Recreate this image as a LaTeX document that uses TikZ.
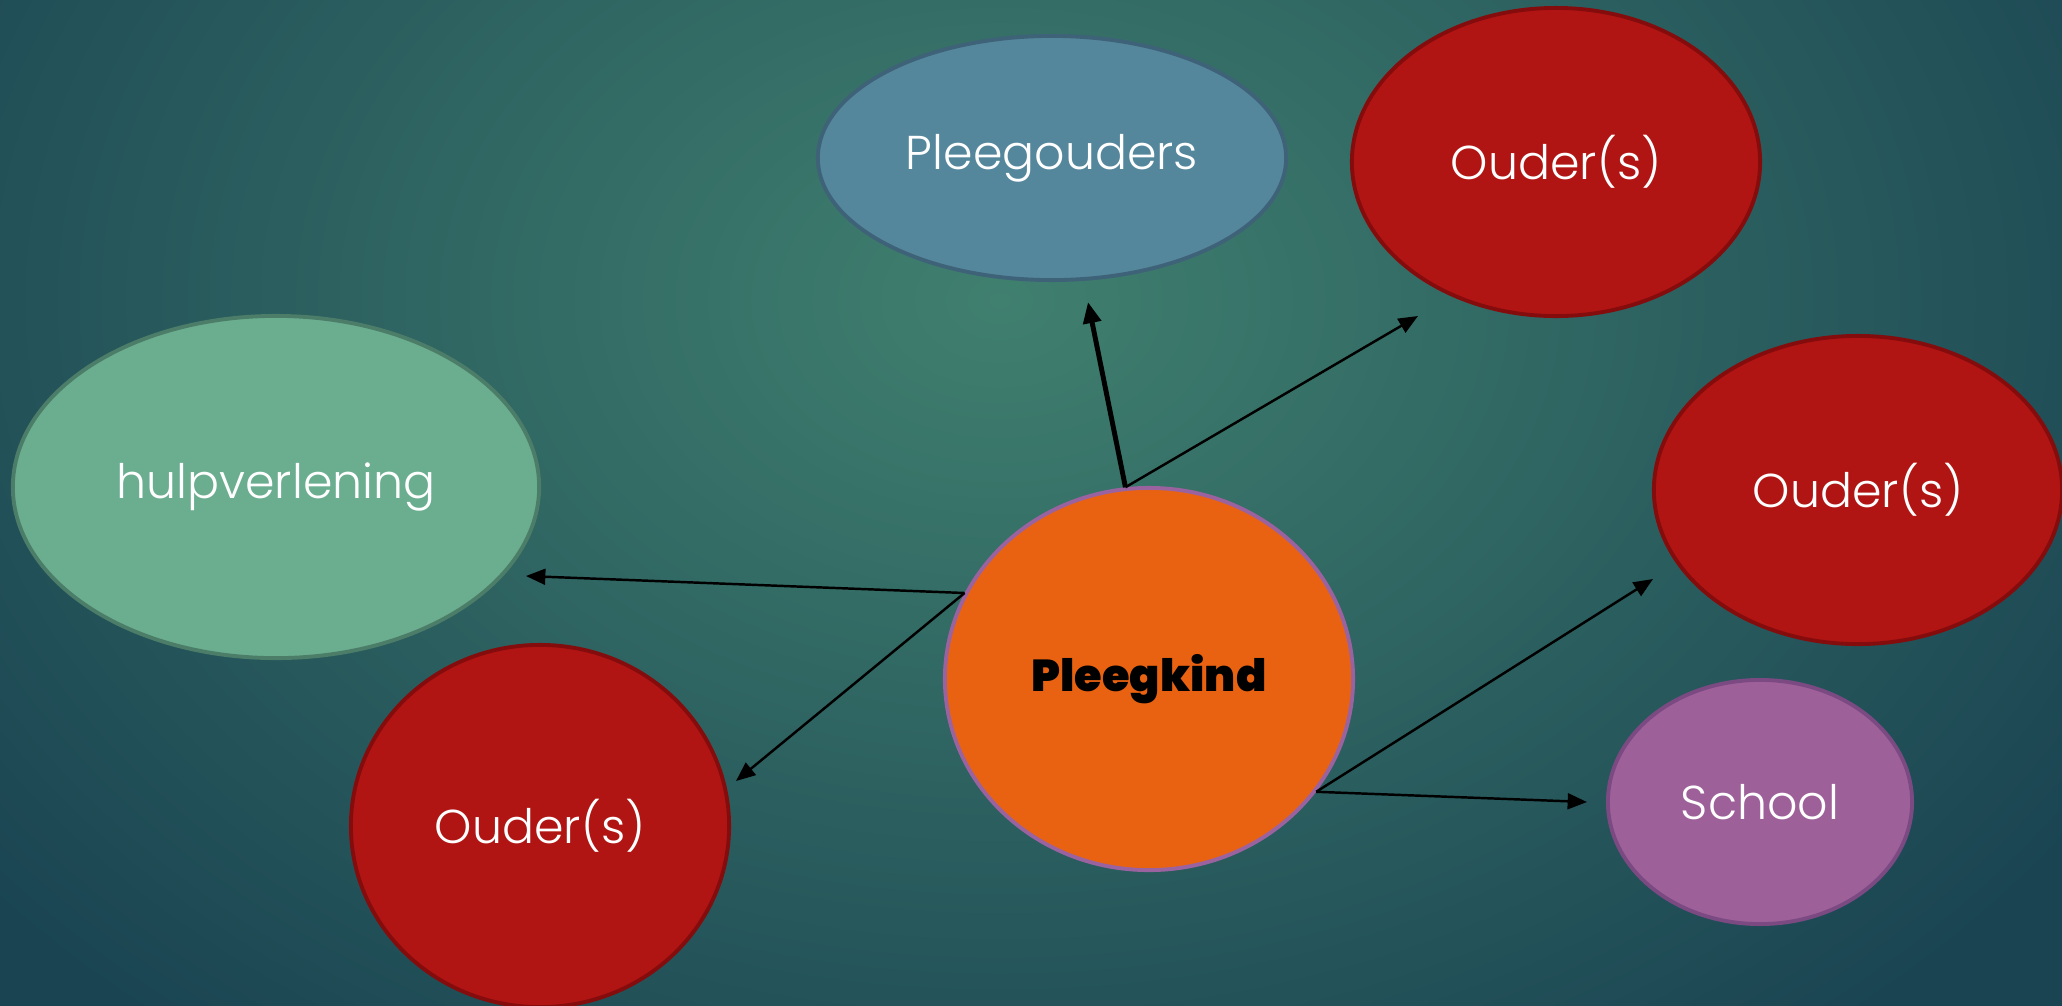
\documentclass[tikz,border=0pt]{standalone}
\usepackage{fontspec}
\setmainfont{Poppins}[UprightFont=* Light, BoldFont=* Black]
\usetikzlibrary{shapes.geometric,arrows.meta}
\definecolor{bgin}{HTML}{40806F}
\definecolor{bgout}{HTML}{1A4452}
\definecolor{pofill}{HTML}{54869C}
\definecolor{podraw}{HTML}{3E6278}
\definecolor{oufill}{HTML}{B01513}
\definecolor{oudraw}{HTML}{850C0C}
\definecolor{hufill}{HTML}{6AAE8F}
\definecolor{hudraw}{HTML}{4C7D68}
\definecolor{pkfill}{HTML}{E86212}
\definecolor{pkdraw}{HTML}{9B62A0}
\definecolor{scfill}{HTML}{9E6099}
\definecolor{scdraw}{HTML}{7C4A82}
\tikzset{
  blob/.style={ellipse, inner sep=0pt, line width=1.1pt, text=white, font=\fontsize{13.5}{16}\selectfont},
  conn/.style={-{Triangle[length=5.5pt,width=4.5pt]}, line width=0.7pt, black},
  thickconn/.style={-{Triangle[length=6pt,width=5pt]}, line width=1.4pt, black}
}
\begin{document}
\begin{tikzpicture}[x=0.01cm,y=-0.01cm]
\useasboundingbox (0,0) rectangle (2062,1005);
\begin{scope}
\clip (0,0) rectangle (2062,1005);
\fill[bgout] (-10,-10) rectangle (2072,1015);
\shade[inner color=bgin, outer color=bgout] (1000,300) ellipse (1300 and 950);
\end{scope}
\node[blob, fill=pofill, draw=podraw, minimum width=4.68cm, minimum height=2.44cm] (po) at (1052,158) {Pleegouders};
\node[blob, fill=oufill, draw=oudraw, minimum width=4.08cm, minimum height=3.08cm] (o1) at (1556,162) {Ouder(s)};
\node[blob, fill=hufill, draw=hudraw, minimum width=5.26cm, minimum height=3.42cm] (hv) at (276,487) {hulpverlening};
\node[blob, fill=oufill, draw=oudraw, minimum width=4.08cm, minimum height=3.08cm] (o2) at (1858,490) {Ouder(s)};
\node[blob, fill=oufill, draw=oudraw, minimum width=3.78cm, minimum height=3.62cm] (o3) at (540,826) {Ouder(s)};
\node[blob, fill=scfill, draw=scdraw, minimum width=3.04cm, minimum height=2.44cm] (sc) at (1760,802) {School};
\node[blob, fill=pkfill, draw=pkdraw, text=black, font=\fontsize{12.7}{15}\selectfont\bfseries, minimum width=4.08cm, minimum height=3.82cm] (pk) at (1149,679) {Pleegkind};
\coordinate (e1) at (1088,302);
\coordinate (e2) at (1418,316);
\coordinate (e3) at (526,576);
\coordinate (e4) at (736,781);
\coordinate (e5) at (1653,579);
\coordinate (e6) at (1587,802);
\draw[thickconn] (pk.97) -- (e1);
\draw[conn] (pk.97) -- (e2);
\draw[conn] (pk.155) -- (e3);
\draw[conn] (pk.155) -- (e4);
\draw[conn] (pk.-34) -- (e5);
\draw[conn] (pk.-34) -- (e6);
\end{tikzpicture}
\end{document}
